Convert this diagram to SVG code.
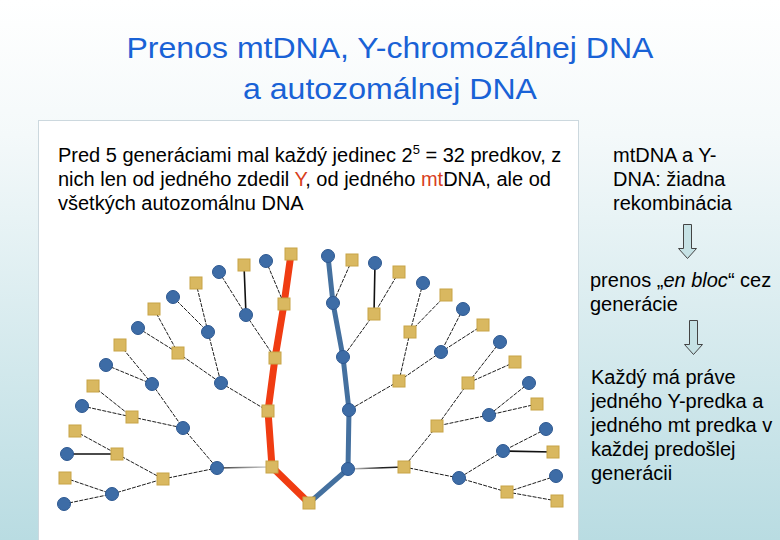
<svg xmlns="http://www.w3.org/2000/svg" width="780" height="540" viewBox="0 0 780 540">
<defs>
<linearGradient id="bg" x1="0" y1="0" x2="0" y2="1">
<stop offset="0" stop-color="#ffffff"/>
<stop offset="0.25" stop-color="#f4f9fa"/>
<stop offset="1" stop-color="#b9dce2"/>
</linearGradient>
<linearGradient id="gL" gradientUnits="userSpaceOnUse" x1="217" y1="0" x2="272" y2="0">
<stop offset="0" stop-color="#333"/>
<stop offset="1" stop-color="#e0e0e0"/>
</linearGradient>
<linearGradient id="gR" gradientUnits="userSpaceOnUse" x1="348" y1="0" x2="404" y2="0">
<stop offset="0" stop-color="#e0e0e0"/>
<stop offset="0.6" stop-color="#222"/>
<stop offset="1" stop-color="#222"/>
</linearGradient>
</defs>
<style>
.t{font-family:"Liberation Sans",Arial,sans-serif;fill:#000;font-size:20px}
.ttl{font-family:"Liberation Sans",Arial,sans-serif;fill:#1962d6;font-size:30px;text-anchor:middle}
.red{fill:#d8401c}
.th{stroke:#1e1e1e;stroke-width:1;stroke-dasharray:4 1.2;fill:none}
.ts{stroke:#111;stroke-width:1.6;fill:none}
.rl{stroke:#f03c12;stroke-width:7;fill:none}
.bl{stroke:#44709f;stroke-width:5;fill:none}
.sq{fill:#d9b860;stroke:#c8a446;stroke-width:1}
.ci{fill:#3d6ca6;stroke:#2d5891;stroke-width:1}
.arr{fill:#c6e2e5;stroke:#444;stroke-width:1}
</style>
<rect width="780" height="540" fill="url(#bg)"/>
<text class="ttl" x="390" y="58" textLength="527" lengthAdjust="spacingAndGlyphs">Prenos mtDNA, Y-chromozálnej DNA</text>
<text class="ttl" x="390" y="99" textLength="294" lengthAdjust="spacingAndGlyphs">a autozomálnej DNA</text>
<rect x="38.5" y="120.5" width="540" height="425" fill="#ffffff" stroke="#ccd8de" stroke-width="1"/>
<text class="t" x="58" y="162">Pred 5 generáciami mal každý jedinec 2<tspan font-size="13" dy="-8">5</tspan><tspan dy="8"> = 32 predkov, z</tspan></text>
<text class="t" x="58" y="186">nich len od jedného zdedil <tspan class="red">Y</tspan>, od jedného <tspan class="red">mt</tspan>DNA, ale od</text>
<text class="t" x="58" y="210">všetkých autozomálnu DNA</text>
<text class="t" x="613" y="162">mtDNA a Y-</text>
<text class="t" x="613" y="186">DNA: žiadna</text>
<text class="t" x="613" y="210">rekombinácia</text>
<text class="t" x="590" y="287">prenos „<tspan font-style="italic">en bloc</tspan>“ cez</text>
<text class="t" x="590" y="311">generácie</text>
<text class="t" x="591" y="384">Každý má práve</text>
<text class="t" x="591" y="408">jedného Y-predka a</text>
<text class="t" x="591" y="432">jedného mt predka v</text>
<text class="t" x="591" y="456">každej predošlej</text>
<text class="t" x="591" y="480">generácii</text>
<g id="arrow1"><path class="arr" d="M683.5,224.5 H691.5 V248.5 H696.5 L687.5,258.5 L678.5,248.5 H683.5 Z"/></g>
<g id="arrow2"><path class="arr" d="M689.5,320.5 H697.5 V344.5 H702.5 L693.5,354.5 L684.5,344.5 H689.5 Z"/></g>
<g id="connectors">
<path class="rl" d="M309,503 L272,467 M272,467 L268,411 L275,358 L284,304 L291,254"/>
<path class="bl" d="M309,503 L348,469 L349,410 L343,357 L333,303 L328,256"/>
<line x1="217" y1="468" x2="272" y2="467" stroke="url(#gL)" stroke-width="1.5"/>
<line x1="348" y1="469" x2="404" y2="467" stroke="url(#gR)" stroke-width="1.5"/>
<path class="th" d="M266,261 L284,304 M219,272 L246,315 M246,315 L275,358 M221,383 L268,411 M178,353 L221,383 M208,332 L221,383 M196,283 L208,332 M173,297 L208,332 M154,309 L178,353 M138,328 L178,353 M163,479 L217,468 M183,428 L217,468 M132,417 L183,428 M152,384 L183,428 M120,345 L152,384 M106,365 L152,384 M93,386 L132,417 M82,406 L132,417 M117,454 L163,479 M112,494 L163,479 M75,431 L117,454 M65,478 L112,494 M64,504 L112,494"/>
<path class="ts" d="M244,265 L246,315 M67,454 L117,454 M375,263 L374,314 M553,452 L503,451"/>
<path class="th" d="M352,260 L333,303 M374,314 L343,357 M399,272 L374,314 M399,381 L349,410 M410,332 L399,381 M441,352 L399,381 M423,283 L410,332 M446,295 L410,332 M463,309 L441,352 M483,325 L441,352 M437,426 L404,467 M459,478 L404,467 M468,383 L437,426 M489,415 L437,426 M500,342 L468,383 M515,362 L468,383 M529,383 L489,415 M537,404 L489,415 M503,451 L459,478 M507,492 L459,478 M546,429 L503,451 M556,476 L507,492 M557,501 L507,492"/>
</g>
<g id="n0"><rect class="sq" x="303" y="497" width="12" height="12"/></g>
<g id="n1"><rect class="sq" x="266" y="461" width="12" height="12"/></g>
<g id="n2"><circle class="ci" cx="348" cy="469" r="6.5"/></g>
<g id="n3"><rect class="sq" x="262" y="405" width="12" height="12"/></g>
<g id="n4"><circle class="ci" cx="217" cy="468" r="6.5"/></g>
<g id="n5"><rect class="sq" x="269" y="352" width="12" height="12"/></g>
<g id="n6"><circle class="ci" cx="221" cy="383" r="6.5"/></g>
<g id="n7"><rect class="sq" x="278" y="298" width="12" height="12"/></g>
<g id="n8"><circle class="ci" cx="246" cy="315" r="6.5"/></g>
<g id="n9"><rect class="sq" x="172" y="347" width="12" height="12"/></g>
<g id="n10"><circle class="ci" cx="208" cy="332" r="6.5"/></g>
<g id="n11"><rect class="sq" x="157" y="473" width="12" height="12"/></g>
<g id="n12"><circle class="ci" cx="183" cy="428" r="6.5"/></g>
<g id="n13"><rect class="sq" x="126" y="411" width="12" height="12"/></g>
<g id="n14"><circle class="ci" cx="152" cy="384" r="6.5"/></g>
<g id="n15"><rect class="sq" x="111" y="448" width="12" height="12"/></g>
<g id="n16"><circle class="ci" cx="112" cy="494" r="6.5"/></g>
<g id="L1"><rect class="sq" x="285" y="248" width="12" height="12"/></g>
<g id="L2"><circle class="ci" cx="266" cy="261" r="6.5"/></g>
<g id="L3"><rect class="sq" x="238" y="259" width="12" height="12"/></g>
<g id="L4"><circle class="ci" cx="219" cy="272" r="6.5"/></g>
<g id="L5"><rect class="sq" x="190" y="277" width="12" height="12"/></g>
<g id="L6"><circle class="ci" cx="173" cy="297" r="6.5"/></g>
<g id="L7"><rect class="sq" x="148" y="303" width="12" height="12"/></g>
<g id="L8"><circle class="ci" cx="138" cy="328" r="6.5"/></g>
<g id="L9"><rect class="sq" x="114" y="339" width="12" height="12"/></g>
<g id="L10"><circle class="ci" cx="106" cy="365" r="6.5"/></g>
<g id="L11"><rect class="sq" x="87" y="380" width="12" height="12"/></g>
<g id="L12"><circle class="ci" cx="82" cy="406" r="6.5"/></g>
<g id="L13"><rect class="sq" x="69" y="425" width="12" height="12"/></g>
<g id="L14"><circle class="ci" cx="67" cy="454" r="6.5"/></g>
<g id="L15"><rect class="sq" x="59" y="472" width="12" height="12"/></g>
<g id="L16"><circle class="ci" cx="64" cy="504" r="6.5"/></g>
<g id="n17"><circle class="ci" cx="349" cy="410" r="6.5"/></g>
<g id="n18"><rect class="sq" x="398" y="461" width="12" height="12"/></g>
<g id="n19"><circle class="ci" cx="343" cy="357" r="6.5"/></g>
<g id="n20"><rect class="sq" x="393" y="375" width="12" height="12"/></g>
<g id="n21"><circle class="ci" cx="333" cy="303" r="6.5"/></g>
<g id="n22"><rect class="sq" x="368" y="308" width="12" height="12"/></g>
<g id="n23"><rect class="sq" x="404" y="326" width="12" height="12"/></g>
<g id="n24"><circle class="ci" cx="441" cy="352" r="6.5"/></g>
<g id="n25"><rect class="sq" x="431" y="420" width="12" height="12"/></g>
<g id="n26"><circle class="ci" cx="459" cy="478" r="6.5"/></g>
<g id="n27"><rect class="sq" x="462" y="377" width="12" height="12"/></g>
<g id="n28"><circle class="ci" cx="489" cy="415" r="6.5"/></g>
<g id="n29"><circle class="ci" cx="503" cy="451" r="6.5"/></g>
<g id="n30"><rect class="sq" x="501" y="486" width="12" height="12"/></g>
<g id="R1"><circle class="ci" cx="328" cy="256" r="6.5"/></g>
<g id="R2"><rect class="sq" x="346" y="254" width="12" height="12"/></g>
<g id="R3"><circle class="ci" cx="375" cy="263" r="6.5"/></g>
<g id="R4"><rect class="sq" x="393" y="266" width="12" height="12"/></g>
<g id="R5"><circle class="ci" cx="423" cy="283" r="6.5"/></g>
<g id="R6"><rect class="sq" x="440" y="289" width="12" height="12"/></g>
<g id="R7"><circle class="ci" cx="463" cy="309" r="6.5"/></g>
<g id="R8"><rect class="sq" x="477" y="319" width="12" height="12"/></g>
<g id="R9"><circle class="ci" cx="500" cy="342" r="6.5"/></g>
<g id="R10"><rect class="sq" x="509" y="356" width="12" height="12"/></g>
<g id="R11"><circle class="ci" cx="529" cy="383" r="6.5"/></g>
<g id="R12"><rect class="sq" x="531" y="398" width="12" height="12"/></g>
<g id="R13"><circle class="ci" cx="546" cy="429" r="6.5"/></g>
<g id="R14"><rect class="sq" x="547" y="446" width="12" height="12"/></g>
<g id="R15"><circle class="ci" cx="556" cy="476" r="6.5"/></g>
<g id="R16"><rect class="sq" x="551" y="495" width="12" height="12"/></g>
</svg>
